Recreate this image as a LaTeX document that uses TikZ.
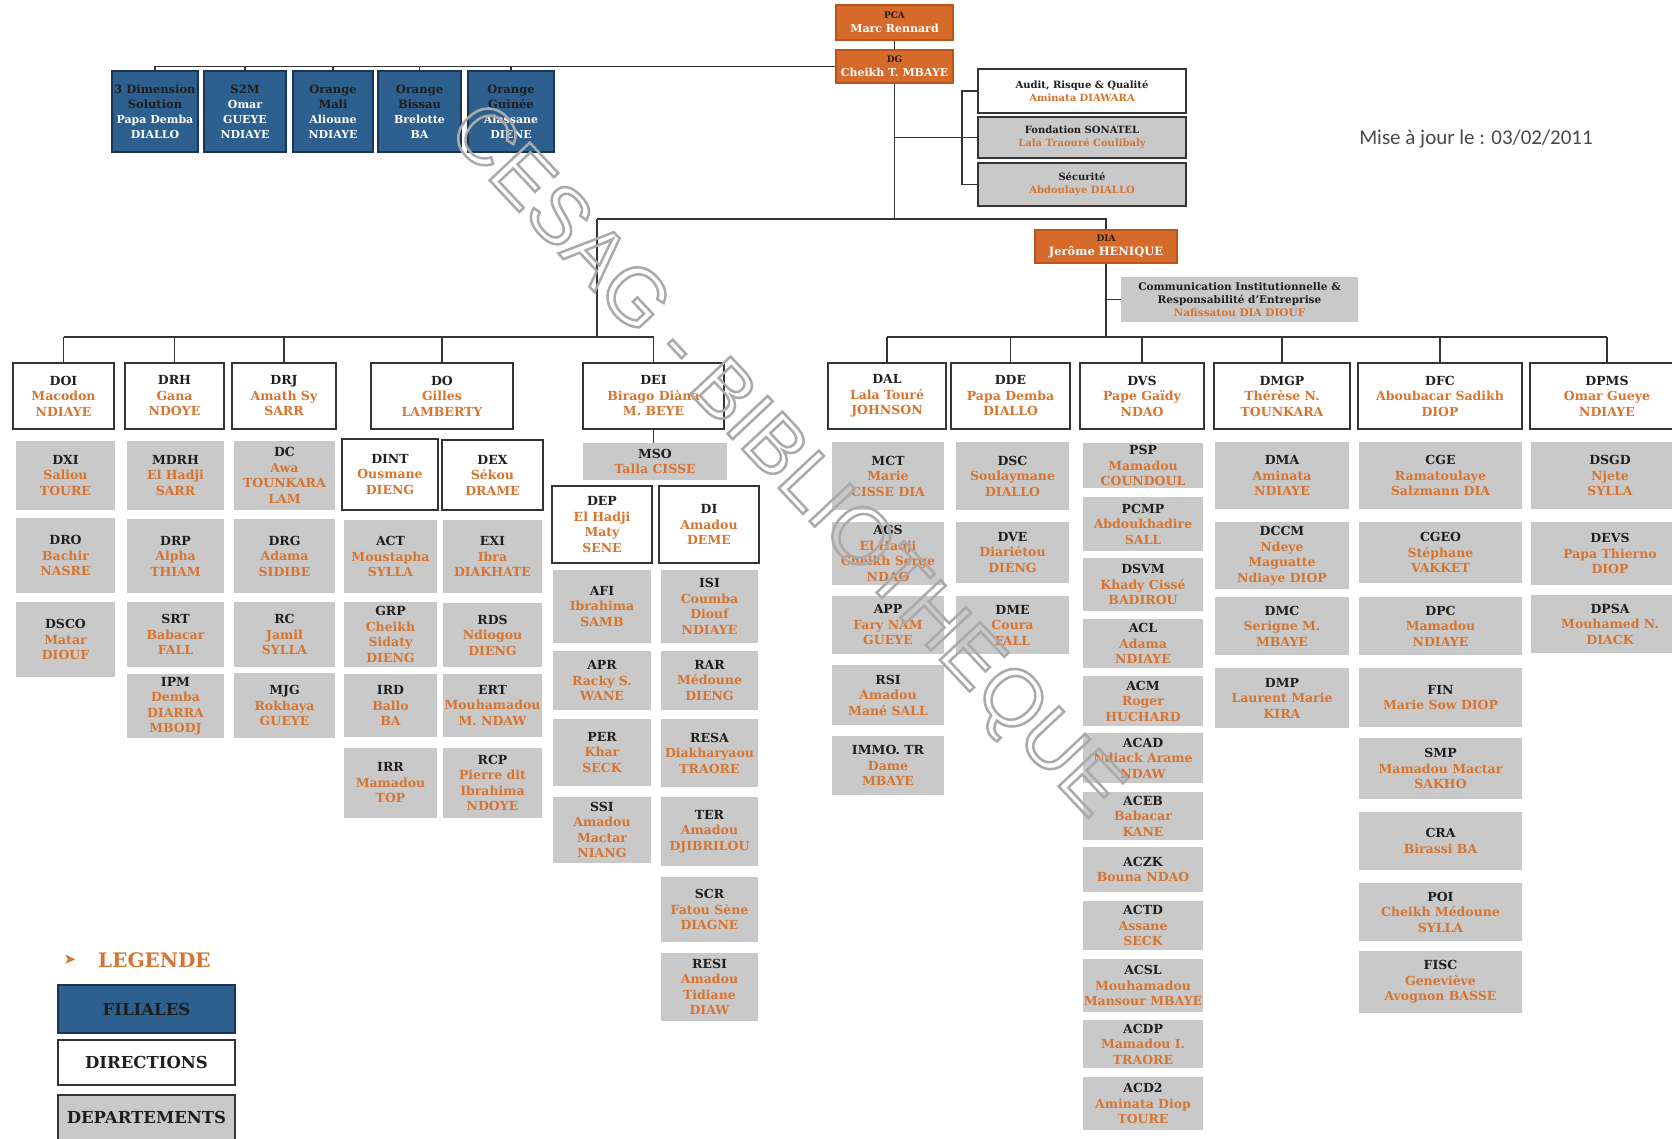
\documentclass[tikz,border=0pt]{standalone}
\usepackage{fontspec}
\setmainfont{DejaVu Serif}
\newfontfamily\datefont{Carlito}
\newfontfamily\wmfont{Liberation Sans}
\newfontfamily\symfont{DejaVu Sans}

\definecolor{namecol}{RGB}{214,116,48}
\definecolor{hdcol}{RGB}{30,30,30}
\definecolor{deptgray}{RGB}{201,201,201}
\definecolor{linecol}{RGB}{52,52,52}
\definecolor{filblue}{RGB}{45,96,142}
\definecolor{filedge}{RGB}{26,52,84}
\definecolor{topor}{RGB}{214,106,42}
\definecolor{topedge}{RGB}{186,84,26}
\definecolor{wmgray}{RGB}{170,170,170}
\definecolor{datecol}{RGB}{72,72,72}

% header line inside a box
\newcommand{\hd}[1]{{\color{hdcol}#1}}
\newcommand{\ohd}[1]{{\color{hdcol}\fontsize{9}{11}\selectfont #1}}
\newcommand{\fhd}[1]{{\color{hdcol}\fontsize{11.5}{15}\selectfont #1}}
% gray department box: name, x, y, width, height, text
\newcommand{\dpt}[6]{\node[dept,minimum width=#4pt,minimum height=#5pt] (#1) at (#2,#3) {#6};}

\begin{document}
\begin{tikzpicture}[x=1pt,y=-1pt,
  base/.style={inner sep=1pt, align=center, text=namecol,
    font=\bfseries\fontsize{12.5}{15.5}\selectfont},
  dept/.style={base, fill=deptgray},
  dirbox/.style={base, fill=white, draw=linecol, line width=1.6pt},
  subdir/.style={dirbox},
  filiale/.style={base, fill=filblue, draw=filedge, line width=1.6pt, text=white,
    font=\bfseries\fontsize{11}{15}\selectfont},
  topbox/.style={base, fill=topor, draw=topedge, line width=1.2pt, text=white,
    font=\bfseries\fontsize{11}{14}\selectfont},
  staff/.style={base, font=\bfseries\fontsize{10}{13}\selectfont},
  link/.style={draw=linecol, line width=1.6pt},
  legbox/.style={base, text=hdcol, line width=1.6pt, draw=linecol,
    minimum width=177pt, font=\bfseries\fontsize{16.5}{18}\selectfont}
]
\useasboundingbox (0,0) rectangle (1672,1138);
\fill[white] (0,0) rectangle (1672,1138);

% ---------- board ----------
\node[topbox,minimum width=117pt,minimum height=35pt] (pca) at (894.5,22.5) {\ohd{PCA}\\Marc Rennard};
\node[topbox,minimum width=117pt,minimum height=33pt] (dg) at (894.5,66.5) {\ohd{DG}\\Cheikh T. MBAYE};

% ---------- subsidiaries ----------
\node[filiale,minimum width=86pt,minimum height=81pt] (f1) at (155,111.5) {\fhd{3 Dimension}\\\fhd{Solution}\\Papa Demba\\DIALLO};
\node[filiale,minimum width=82pt,minimum height=81pt] (f2) at (245,111.5) {\fhd{S2M}\\Omar\\GUEYE\\NDIAYE};
\node[filiale,minimum width=80pt,minimum height=81pt] (f3) at (333,111.5) {\fhd{Orange}\\\fhd{Mali}\\Alioune\\NDIAYE};
\node[filiale,minimum width=83pt,minimum height=81pt] (f4) at (419.5,111.5) {\fhd{Orange}\\\fhd{Bissau}\\Brelotte\\BA};
\node[filiale,minimum width=86pt,minimum height=81pt] (f5) at (511,111.5) {\fhd{Orange}\\\fhd{Guinée}\\Alassane\\DIENE};

% ---------- staff units ----------
\node[staff,fill=white,draw=linecol,line width=1.6pt,minimum width=208pt,minimum height=44pt] (audit) at (1082,91) {\hd{Audit, Risque \& Qualité}\\Aminata DIAWARA};
\node[staff,fill=deptgray,draw=linecol,line width=1.6pt,minimum width=208pt,minimum height=41pt] (fond) at (1082,137.5) {\hd{Fondation SONATEL}\\Lala Traouré Coulibaly};
\node[staff,fill=deptgray,draw=linecol,line width=1.6pt,minimum width=208pt,minimum height=43pt] (secu) at (1082,184.5) {\hd{Sécurité}\\Abdoulaye DIALLO};

\node[topbox,minimum width=142pt,minimum height=33pt,font=\bfseries\fontsize{11.5}{14}\selectfont] (dia) at (1106,246.5) {\ohd{DIA}\\Jerôme HENIQUE};
\node[staff,fill=deptgray,minimum width=237pt,minimum height=45pt,font=\bfseries\fontsize{10.5}{13}\selectfont] (comm) at (1239.5,299.5) {\hd{Communication Institutionnelle \&}\\\hd{Responsabilité d'Entreprise}\\Nafissatou DIA DIOUF};

\node[font=\datefont\fontsize{21}{23}\selectfont, text=datecol, inner sep=0pt] (maj) at (1476,139) {Mise à jour le : 03/02/2011};

% ---------- directions ----------
\node[dirbox,minimum width=101pt,minimum height=66pt] (doi) at (63.5,396) {\hd{DOI}\\Macodon\\NDIAYE};
\node[dirbox,minimum width=99pt,minimum height=66pt] (drh) at (174.5,396) {\hd{DRH}\\Gana\\NDOYE};
\node[dirbox,minimum width=104pt,minimum height=66pt] (drj) at (284,396) {\hd{DRJ}\\Amath Sy\\SARR};
\node[dirbox,minimum width=142pt,minimum height=66pt] (do) at (442,396) {\hd{DO}\\Gilles\\LAMBERTY};
\node[dirbox,minimum width=141pt,minimum height=66pt] (dei) at (653.5,396) {\hd{DEI}\\Birago Diàna\\M. BEYE};
\node[dirbox,minimum width=118pt,minimum height=66pt] (dal) at (887,396) {\hd{DAL}\\Lala Touré\\JOHNSON};
\node[dirbox,minimum width=119pt,minimum height=66pt] (dde) at (1010.5,396) {\hd{DDE}\\Papa Demba\\DIALLO};
\node[dirbox,minimum width=124pt,minimum height=66pt] (dvs) at (1142,396) {\hd{DVS}\\Pape Gaïdy\\NDAO};
\node[dirbox,minimum width=136pt,minimum height=66pt] (dmgp) at (1282,396) {\hd{DMGP}\\Thérèse N.\\TOUNKARA};
\node[dirbox,minimum width=164pt,minimum height=66pt] (dfc) at (1440,396) {\hd{DFC}\\Aboubacar Sadikh\\DIOP};
\node[dirbox,minimum width=154pt,minimum height=66pt] (dpms) at (1607,396) {\hd{DPMS}\\Omar Gueye\\NDIAYE};

% sub-directions
\node[subdir,minimum width=96pt,minimum height=71pt] (dint) at (390,474.5) {\hd{DINT}\\Ousmane\\DIENG};
\node[subdir,minimum width=101pt,minimum height=70pt] (dex) at (492.5,475) {\hd{DEX}\\Sékou\\DRAME};
\node[subdir,minimum width=100pt,minimum height=77pt] (dep) at (602,524.5) {\hd{DEP}\\El Hadji\\Maty\\SENE};
\node[subdir,minimum width=100pt,minimum height=77pt] (di) at (709,524.5) {\hd{DI}\\Amadou\\DEME};
\dpt{mso}{655}{461.5}{144}{37}{\hd{MSO}\\Talla CISSE}

% ---------- departments ----------
% DOI
\dpt{dxi}{65.5}{475.5}{99}{69}{\hd{DXI}\\Saliou\\TOURE}
\dpt{dro}{65.5}{555.5}{99}{75}{\hd{DRO}\\Bachir\\NASRE}
\dpt{dsco}{65.5}{639.5}{99}{75}{\hd{DSCO}\\Matar\\DIOUF}
% DRH
\dpt{mdrh}{175.5}{475.5}{97}{69}{\hd{MDRH}\\El Hadji\\SARR}
\dpt{drp}{175.5}{556}{97}{74}{\hd{DRP}\\Alpha\\THIAM}
\dpt{srt}{175.5}{634.5}{97}{65}{\hd{SRT}\\Babacar\\FALL}
\dpt{ipm}{175.5}{706}{97}{64}{\hd{IPM}\\Demba\\DIARRA\\MBODJ}
% DRJ
\dpt{dc}{284.5}{475.5}{101}{69}{\hd{DC}\\Awa\\TOUNKARA\\LAM}
\dpt{drg}{284.5}{556}{101}{74}{\hd{DRG}\\Adama\\SIDIBE}
\dpt{rc}{284.5}{634.5}{101}{65}{\hd{RC}\\Jamil\\SYLLA}
\dpt{mjg}{284.5}{705.5}{101}{65}{\hd{MJG}\\Rokhaya\\GUEYE}
% DINT
\dpt{act}{390.5}{556.5}{93}{73}{\hd{ACT}\\Moustapha\\SYLLA}
\dpt{grp}{390.5}{634.5}{93}{65}{\hd{GRP}\\Cheikh\\Sidaty\\DIENG}
\dpt{ird}{390.5}{705.5}{93}{63}{\hd{IRD}\\Ballo\\BA}
\dpt{irr}{390.5}{783}{93}{70}{\hd{IRR}\\Mamadou\\TOP}
% DEX
\dpt{exi}{492.5}{556.5}{99}{73}{\hd{EXI}\\Ibra\\DIAKHATE}
\dpt{rds}{492.5}{635}{99}{64}{\hd{RDS}\\Ndiogou\\DIENG}
\dpt{ert}{492.5}{705.5}{99}{63}{\hd{ERT}\\Mouhamadou\\M. NDAW}
\dpt{rcp}{492.5}{783}{99}{70}{\hd{RCP}\\Pierre dit\\Ibrahima\\NDOYE}
% DEP
\dpt{afi}{602}{606.5}{98}{73}{\hd{AFI}\\Ibrahima\\SAMB}
\dpt{apr}{602}{680.5}{98}{59}{\hd{APR}\\Racky S.\\WANE}
\dpt{per}{602}{752.5}{98}{67}{\hd{PER}\\Khar\\SECK}
\dpt{ssi}{602}{830}{98}{66}{\hd{SSI}\\Amadou\\Mactar\\NIANG}
% DI
\dpt{isi}{709.5}{606.5}{97}{73}{\hd{ISI}\\Coumba\\Diouf\\NDIAYE}
\dpt{rar}{709.5}{680.5}{97}{59}{\hd{RAR}\\Médoune\\DIENG}
\dpt{resa}{709.5}{753}{97}{68}{\hd{RESA}\\Diakharyaou\\TRAORE}
\dpt{ter}{709.5}{831.5}{97}{69}{\hd{TER}\\Amadou\\DJIBRILOU}
\dpt{scr}{709.5}{909.5}{97}{65}{\hd{SCR}\\Fatou Sène\\DIAGNE}
\dpt{resi}{709.5}{987}{97}{68}{\hd{RESI}\\Amadou\\Tidiane\\DIAW}
% DAL
\dpt{mct}{888}{476}{112}{68}{\hd{MCT}\\Marie\\CISSE DIA}
\dpt{ags}{888}{553.5}{112}{63}{\hd{AGS}\\El Hadji\\Cheikh Serge\\NDAO}
\dpt{app}{888}{625}{112}{58}{\hd{APP}\\Fary NAM\\GUEYE}
\dpt{rsi}{888}{695}{112}{60}{\hd{RSI}\\Amadou\\Mané SALL}
\dpt{immo}{888}{765.5}{112}{59}{\hd{IMMO. TR}\\Dame\\MBAYE}
% DDE
\dpt{dsc}{1012.5}{476}{113}{68}{\hd{DSC}\\Soulaymane\\DIALLO}
\dpt{dve}{1012.5}{552.5}{113}{61}{\hd{DVE}\\Diariétou\\DIENG}
\dpt{dme}{1012.5}{625}{113}{58}{\hd{DME}\\Coura\\FALL}
% DVS
\dpt{psp}{1143}{465.5}{120}{45}{\hd{PSP}\\Mamadou\\COUNDOUL}
\dpt{pcmp}{1143}{524}{120}{54}{\hd{PCMP}\\Abdoukhadire\\SALL}
\dpt{dsvm}{1143}{584.5}{120}{53}{\hd{DSVM}\\Khady Cissé\\BADIROU}
\dpt{acl}{1143}{643.5}{120}{49}{\hd{ACL}\\Adama\\NDIAYE}
\dpt{acm}{1143}{701}{120}{50}{\hd{ACM}\\Roger\\HUCHARD}
\dpt{acad}{1143}{758}{120}{50}{\hd{ACAD}\\Ndiack Arame\\NDAW}
\dpt{aceb}{1143}{816}{120}{48}{\hd{ACEB}\\Babacar\\KANE}
\dpt{aczk}{1143}{869.5}{120}{45}{\hd{ACZK}\\Bouna NDAO}
\dpt{actd}{1143}{925.5}{120}{49}{\hd{ACTD}\\Assane\\SECK}
\dpt{acsl}{1143}{985.5}{120}{53}{\hd{ACSL}\\Mouhamadou\\Mansour MBAYE}
\dpt{acdp}{1143}{1044}{120}{48}{\hd{ACDP}\\Mamadou I.\\TRAORE}
\dpt{acdd}{1143}{1103.5}{120}{53}{\hd{ACD2}\\Aminata Diop\\TOURE}
% DMGP
\dpt{dma}{1282}{475.5}{134}{67}{\hd{DMA}\\Aminata\\NDIAYE}
\dpt{dccm}{1282}{555.5}{134}{67}{\hd{DCCM}\\Ndeye\\Maguatte\\Ndiaye DIOP}
\dpt{dmc}{1282}{626}{134}{58}{\hd{DMC}\\Serigne M.\\MBAYE}
\dpt{dmp}{1282}{698}{134}{60}{\hd{DMP}\\Laurent Marie\\KIRA}
% DFC
\dpt{cge}{1440.5}{475.5}{163}{67}{\hd{CGE}\\Ramatoulaye\\Salzmann DIA}
\dpt{cgeo}{1440.5}{552.5}{163}{61}{\hd{CGEO}\\Stéphane\\VAKKET}
\dpt{dpc}{1440.5}{626}{163}{58}{\hd{DPC}\\Mamadou\\NDIAYE}
\dpt{fin}{1440.5}{697.5}{163}{59}{\hd{FIN}\\Marie Sow DIOP}
\dpt{smp}{1440.5}{768.5}{163}{61}{\hd{SMP}\\Mamadou Mactar\\SAKHO}
\dpt{cra}{1440.5}{841}{163}{58}{\hd{CRA}\\Birassi BA}
\dpt{poi}{1440.5}{912}{163}{58}{\hd{POI}\\Cheikh Médoune\\SYLLA}
\dpt{fisc}{1440.5}{982}{163}{62}{\hd{FISC}\\Geneviève\\Avognon BASSE}
% DPMS
\dpt{dsgd}{1610}{475.5}{158}{67}{\hd{DSGD}\\Njete\\SYLLA}
\dpt{devs}{1610}{553.5}{158}{63}{\hd{DEVS}\\Papa Thierno\\DIOP}
\dpt{dpsa}{1610}{624}{158}{58}{\hd{DPSA}\\Mouhamed N.\\DIACK}

% ---------- connectors ----------
\coordinate (hub) at (597,219);
\coordinate (lbar) at (0,337);
\coordinate (brk) at (962,140);

\draw[link] (pca.south) -- (dg.north);
\draw[link] (dg.west) -| (f1.north);
\foreach \f in {f2,f3,f4,f5} \draw[link] (\f.north) -- (\f.north |- dg.west);

\draw[link] (dg.south) -- (dg.south |- hub);
\draw[link] (audit.west) -| (brk |- secu.west) -- (secu.west);
\draw[link] (dg.south |- fond.west) -- (fond.west);

\draw[link] (hub) -- (dia.north |- hub) -- (dia.north);
\draw[link] (hub) -- (hub |- lbar);
\draw[link] (doi.north |- lbar) -- (dei.north |- lbar);
\foreach \d in {doi,drh,drj,do,dei} \draw[link] (\d.north) -- (\d.north |- lbar);

\draw[link] (dia.south) -- (dia.south |- lbar);
\draw[link] (comm.west) -- (comm.west -| dia.south);
\draw[link] (dal.north |- lbar) -- (dpms.north |- lbar);
\foreach \d in {dal,dde,dvs,dmgp,dfc,dpms} \draw[link] (\d.north) -- (\d.north |- lbar);

\draw[link] (dei.south) -- (dei.south |- mso.north);

% ---------- legend ----------
\node[text=namecol, font=\symfont\fontsize{15}{15}\selectfont, inner sep=0pt] (legarrow) at (70,960) {➤};
\node[text=namecol, font=\bfseries\fontsize{20}{22}\selectfont, inner sep=0pt, anchor=west] (legtitle) at (98,960) {LEGENDE};
\node[legbox, fill=filblue, draw=filedge, minimum height=48pt] (lfil) at (146.5,1009) {FILIALES};
\node[legbox, fill=white, minimum height=45pt] (ldir) at (146.5,1062.5) {DIRECTIONS};
\node[legbox, fill=deptgray, minimum height=55pt] (ldep) at (146.5,1122.5) {};
\node[text=hdcol, inner sep=0pt, font=\bfseries\fontsize{16.5}{18}\selectfont] (ldeptext) at (146.5,1117) {DEPARTEMENTS};

% ---------- stamp across the chart ----------
\node[rotate=-46.8, text=wmgray, font=\wmfont\fontsize{80}{80}\selectfont, inner sep=0pt] (stamp) at (783,463)
  {\special{pdf:literal direct 1 Tr 2.5 w}CESAG - BIBLIOTHEQUE\special{pdf:literal direct 0 Tr}};
\end{tikzpicture}
\end{document}
